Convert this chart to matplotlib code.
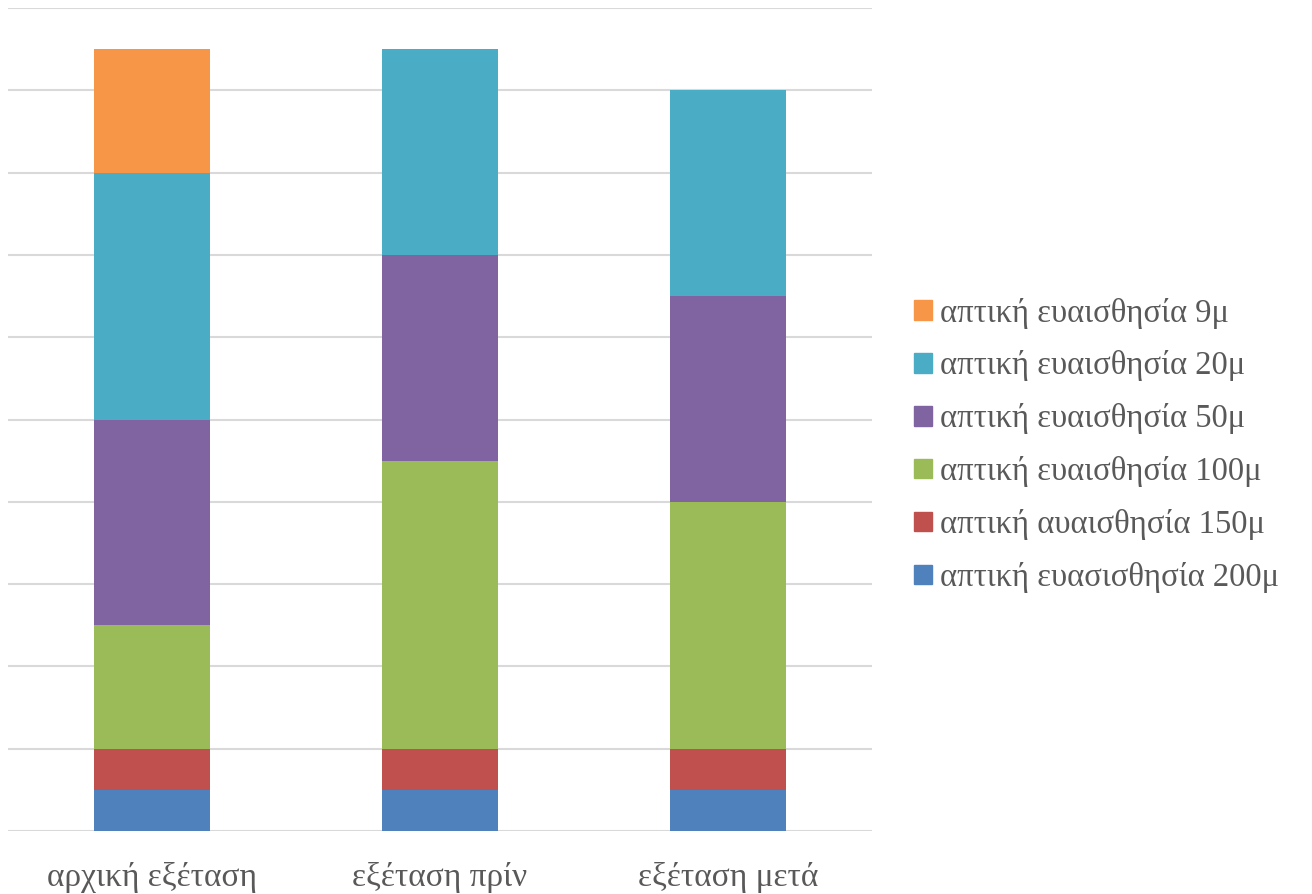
import numpy as np
import matplotlib.pyplot as plt
from matplotlib.patches import Patch

# categories and stacked series (bottom to top)
categories = ['αρχική εξέταση', 'εξέταση πρίν', 'εξέταση μετά']
series_names = ['απτική ευασισθησία 200μ', 'απτική αυαισθησία 150μ',
                'απτική ευαισθησία 100μ', 'απτική ευαισθησία 50μ',
                'απτική ευαισθησία 20μ', 'απτική ευαισθησία 9μ']
v200 = [1, 1, 1]
v150 = [1, 1, 1]
v100 = [3, 7, 6]
v50 = [5, 5, 5]
v20 = [6, 5, 5]
v9 = [3, 0, 0]
colors = ['#4F81BD', '#C0504D', '#9BBB59', '#8064A2', '#4BACC6', '#F79646']

series = [v200, v150, v100, v50, v20, v9]

plt.rcParams['font.family'] = ['Liberation Serif', 'DejaVu Serif']
text_col = '#595959'

fig = plt.figure(figsize=(13.12, 8.94), dpi=100)
ax = fig.add_axes([0.0061, 0.0705, 0.6585, 0.9205])

x = np.arange(len(categories))
bottom = np.zeros(len(categories))
for vals, col in zip(series, colors):
    ax.bar(x, vals, width=0.4, bottom=bottom, color=col, zorder=3)
    bottom += np.array(vals)

ax.set_xlim(-0.5, 2.5)
ax.set_ylim(0, 20)
ax.set_yticks(np.arange(0, 21, 2))
ax.set_yticklabels([])
ax.tick_params(axis='y', length=0)
ax.tick_params(axis='x', length=0, pad=22, labelsize=24, labelcolor=text_col)
ax.set_xticks(x)
ax.set_xticklabels(categories)
ax.grid(axis='y', color='#D9D9D9', linewidth=1.5, zorder=0)
for s in ax.spines.values():
    s.set_visible(False)

handles = [Patch(color=c, label=n) for n, c in zip(series_names, colors)]
leg = fig.legend(handles[::-1], series_names[::-1], loc='center left',
                 bbox_to_anchor=(0.674, 0.502), frameon=False, fontsize=23.5,
                 handlelength=0.55, handleheight=0.55, handletextpad=0.25,
                 labelspacing=0.67, labelcolor=text_col)

fig.savefig('out.png', dpi=100)
